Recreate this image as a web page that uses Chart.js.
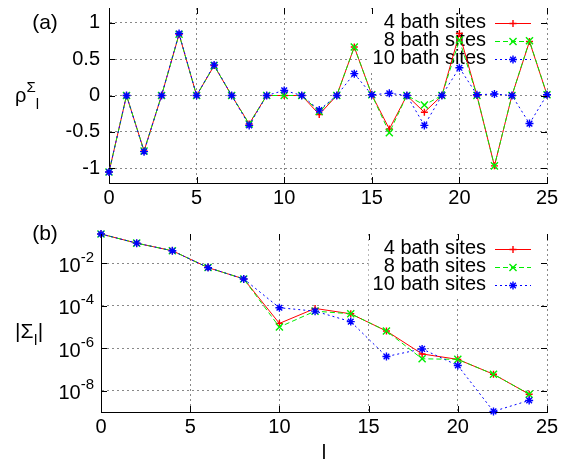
<!DOCTYPE html>
<html>
<head>
<meta charset="utf-8">
<script src="https://cdn.jsdelivr.net/npm/chart.js@4.4.1/dist/chart.umd.min.js"></script>
<style>
  body { margin: 0; background: #fff; }
  #wrap { position: relative; width: 568px; height: 460px; }
  canvas { position: absolute; left: 0; }
</style>
</head>
<body>
<div id="wrap">
  <canvas id="rhoChart" width="568" height="205" style="top:0"></canvas>
  <canvas id="sigmaChart" width="568" height="255" style="top:205px"></canvas>
</div>
<script>
const FAMILY = '"Liberation Sans", Arial, Helvetica, sans-serif';
Chart.defaults.font.family = FAMILY;
Chart.defaults.font.size = 20;
Chart.defaults.color = '#000';

// ---- data (a): rho_l^Sigma ----
const lAll = [0, 1, 2, 3, 4, 5, 6, 7, 8, 9, 10, 11, 12, 13, 14, 15, 16, 17, 18, 19, 20, 21, 22, 23, 24, 25];
const rho4 = [-1.05, 0, -0.76, 0, 0.84, 0, 0.41, 0, -0.39, 0, 0.0, 0, -0.26, 0, 0.665, 0.01, -0.46, 0, -0.23, 0, 0.85, 0, -0.965, 0, 0.74, 0.01];
const rho8 = [-1.05, 0, -0.76, 0, 0.84, 0, 0.41, 0, -0.39, 0, 0.0, 0, -0.22, 0, 0.665, 0.01, -0.51, 0, -0.13, 0, 0.76, 0, -0.965, 0, 0.75, 0.01];
const rho10 = [-1.05, 0, -0.77, 0, 0.85, 0, 0.42, 0, -0.41, 0, 0.07, 0, -0.20, 0, 0.30, 0.01, 0.03, 0, -0.41, 0, 0.38, 0.01, 0.02, 0, -0.385, 0.01];

// ---- data (b): |Sigma_l| ----
const lEven = [0, 2, 4, 6, 8, 10, 12, 14, 16, 18, 20, 22, 24];
const sig4 = [0.24, 0.089, 0.039, 6.3e-3, 1.84e-3, 1.48e-5, 7.5e-5, 4.2e-5, 6.5e-6, 5.4e-7, 3.0e-7, 6.0e-8, 6.9e-9];
const sig8 = [0.24, 0.089, 0.039, 6.3e-3, 1.84e-3, 1.0e-5, 5.6e-5, 4.2e-5, 6.5e-6, 3.2e-7, 3.0e-7, 6.0e-8, 6.9e-9];
const sig10 = [0.24, 0.089, 0.039, 6.3e-3, 1.84e-3, 8.1e-5, 5.6e-5, 1.8e-5, 4.1e-7, 9.3e-7, 1.55e-7, 1.07e-9, 3.5e-9];

// ---- ticks ----
const xTicks = [0, 5, 10, 15, 20, 25];
const rhoTicks = [-1, -0.5, 0, 0.5, 1];
const sigmaTicks = [1e-8, 1e-6, 1e-4, 1e-2];
const seriesLabels = ['4 bath sites', '8 bath sites', '10 bath sites'];

const seriesStyle = [
    { color: '#ff0000', dash: [], point: 'cross', radius: 3.5, order: 2 },
    { color: '#00ee00', dash: [5, 3], point: 'crossRot', radius: 5, order: 1 },
    { color: '#0000ff', dash: [2, 3], point: 'star', radius: 4, order: 0 }
];

function makeSet(i, xs, ys) {
    const s = seriesStyle[i];
    return {
        label: seriesLabels[i],
        data: xs.map((x, k) => ({ x: x, y: ys[k] })),
        borderColor: s.color,
        backgroundColor: s.color,
        borderWidth: 1,
        borderDash: s.dash,
        pointStyle: s.point,
        pointRadius: s.radius,
        pointBorderWidth: 1.4,
        pointBorderColor: s.color,
        tension: 0,
        clip: false,
        order: s.order
    };
}

const gridOpts = { color: '#888', lineWidth: 1, drawTicks: false };
const borderOpts = { color: '#000', width: 1, dash: [2, 3] };

// no extra room for labels at the ends: the frame is placed by hand
function noPad(s) {
    s.paddingTop = 0; s.paddingBottom = 0; s.paddingLeft = 0; s.paddingRight = 0;
}

function drawText(ctx, text, x, y, size, align) {
    ctx.font = size + 'px ' + FAMILY;
    ctx.textAlign = align || 'left';
    ctx.textBaseline = 'alphabetic';
    ctx.fillText(text, x, y);
    return ctx.measureText(text).width;
}

function drawLegend(chart, rowY) {
    const ctx = chart.ctx, a = chart.chartArea;
    ctx.save();
    ctx.font = '20px ' + FAMILY;
    const textRight = 486;
    const left = textRight - ctx.measureText(seriesLabels[2]).width - 4;
    ctx.fillStyle = '#fff';
    ctx.fillRect(left, a.top + 1, a.right - 1 - left, rowY[2] + 10 - a.top);
    chart.data.datasets.forEach((ds, i) => {
        const y = rowY[i];
        const s = seriesStyle[i];
        ctx.fillStyle = '#000';
        ctx.textAlign = 'right';
        ctx.textBaseline = 'middle';
        ctx.fillText(ds.label, textRight, y - 1);
        ctx.strokeStyle = s.color;
        ctx.lineWidth = 1;
        ctx.setLineDash(s.dash);
        ctx.beginPath();
        ctx.moveTo(495, y + 0.5);
        ctx.lineTo(531, y + 0.5);
        ctx.stroke();
        ctx.setLineDash([]);
        ctx.lineWidth = 1.4;
        ctx.fillStyle = s.color;
        Chart.helpers.drawPoint(ctx, { pointStyle: s.point, radius: s.radius, rotation: 0, borderWidth: 1.4 }, 513, y + 0.5);
    });
    ctx.restore();
}

function drawInwardTicks(chart) {
    const { ctx, chartArea: a, scales } = chart;
    ctx.save();
    ctx.strokeStyle = '#000';
    ctx.lineWidth = 1;
    ctx.beginPath();
    scales.x.ticks.forEach(t => {
        const px = Math.round(scales.x.getPixelForValue(t.value)) + 0.5;
        ctx.moveTo(px, a.bottom); ctx.lineTo(px, a.bottom - 6);
        ctx.moveTo(px, a.top); ctx.lineTo(px, a.top + 6);
    });
    scales.y.ticks.forEach(t => {
        const py = Math.round(scales.y.getPixelForValue(t.value)) + 0.5;
        ctx.moveTo(a.left, py); ctx.lineTo(a.left + 6, py);
        ctx.moveTo(a.right, py); ctx.lineTo(a.right - 6, py);
    });
    ctx.stroke();
    ctx.restore();
}

const rhoDecor = {
    id: 'rhoDecor',
    beforeDatasetsDraw(chart) { drawLegend(chart, [23, 41, 59]); },
    afterDraw(chart) {
        const ctx = chart.ctx;
        drawInwardTicks(chart);
        ctx.save();
        ctx.fillStyle = '#000';
        drawText(ctx, '(a)', 45, 29, 21, 'center');
        let x = 15;
        x += drawText(ctx, 'ρ', x, 102, 20);
        const w = drawText(ctx, 'Σ', x, 92, 15);
        drawText(ctx, 'l', x + w, 109, 15);
        ctx.restore();
    }
};

const sigmaDecor = {
    id: 'sigmaDecor',
    beforeDatasetsDraw(chart) { drawLegend(chart, [44, 62, 80]); },
    afterDraw(chart) {
        const { ctx, chartArea: a, scales: { y } } = chart;
        drawInwardTicks(chart);
        ctx.save();
        ctx.fillStyle = '#000';
        sigmaTicks.forEach(v => {
            const py = y.getPixelForValue(v);
            const exp = String(Math.round(Math.log10(v)));
            ctx.font = '15px ' + FAMILY;
            const ew = ctx.measureText(exp).width;
            ctx.font = '20px ' + FAMILY;
            const bw = ctx.measureText('10').width;
            const right = a.left - 7;
            drawText(ctx, '10', right - ew - bw, py + 8.5, 20);
            drawText(ctx, exp, right - ew, py - 1.5, 15);
        });
        drawText(ctx, '(b)', 45, 35, 21, 'center');
        let x = 15;
        x += drawText(ctx, '|Σ', x, 133, 21);
        x += drawText(ctx, 'l', x + 0.5, 140, 15) + 1;
        drawText(ctx, '|', x, 133, 21);
        drawText(ctx, 'l', (a.left + a.right) / 2, 254, 20, 'center');
        ctx.restore();
    }
};

const xScale = (height, pad) => ({
    type: 'linear',
    min: 0,
    max: 25,
    afterBuildTicks: s => { s.ticks = xTicks.map(v => ({ value: v })); },
    afterFit: s => { s.height = height; noPad(s); },
    ticks: { padding: pad, maxRotation: 0, autoSkip: false, callback: v => String(v) },
    grid: gridOpts,
    border: borderOpts
});

new Chart(document.getElementById('rhoChart'), {
    type: 'line',
    data: { datasets: [makeSet(0, lAll, rho4), makeSet(1, lAll, rho8), makeSet(2, lAll, rho10)] },
    options: {
        responsive: false,
        animation: false,
        layout: { padding: { left: 0, right: 21, top: 8, bottom: 0 } },
        plugins: { legend: { display: false }, tooltip: { enabled: false } },
        scales: {
            x: xScale(22, 3),
            y: {
                type: 'linear',
                min: -1.2,
                max: 1.2,
                afterBuildTicks: s => { s.ticks = rhoTicks.map(v => ({ value: v })); },
                afterFit: s => { s.width = 109; noPad(s); },
                ticks: { padding: 9, callback: v => String(v) },
                grid: gridOpts,
                border: borderOpts
            }
        }
    },
    plugins: [rhoDecor]
});

new Chart(document.getElementById('sigmaChart'), {
    type: 'line',
    data: { datasets: [makeSet(0, lEven, sig4), makeSet(1, lEven, sig8), makeSet(2, lEven, sig10)] },
    options: {
        responsive: false,
        animation: false,
        layout: { padding: { left: 0, right: 21, top: 29, bottom: 0 } },
        plugins: { legend: { display: false }, tooltip: { enabled: false } },
        scales: {
            x: xScale(48, 3),
            y: {
                type: 'logarithmic',
                min: 1e-9,
                max: 0.24,
                afterBuildTicks: s => { s.ticks = sigmaTicks.map(v => ({ value: v })); },
                afterFit: s => { s.width = 101; noPad(s); },
                ticks: { display: false },
                grid: gridOpts,
                border: borderOpts
            }
        }
    },
    plugins: [sigmaDecor]
});
</script>
</body>
</html>
